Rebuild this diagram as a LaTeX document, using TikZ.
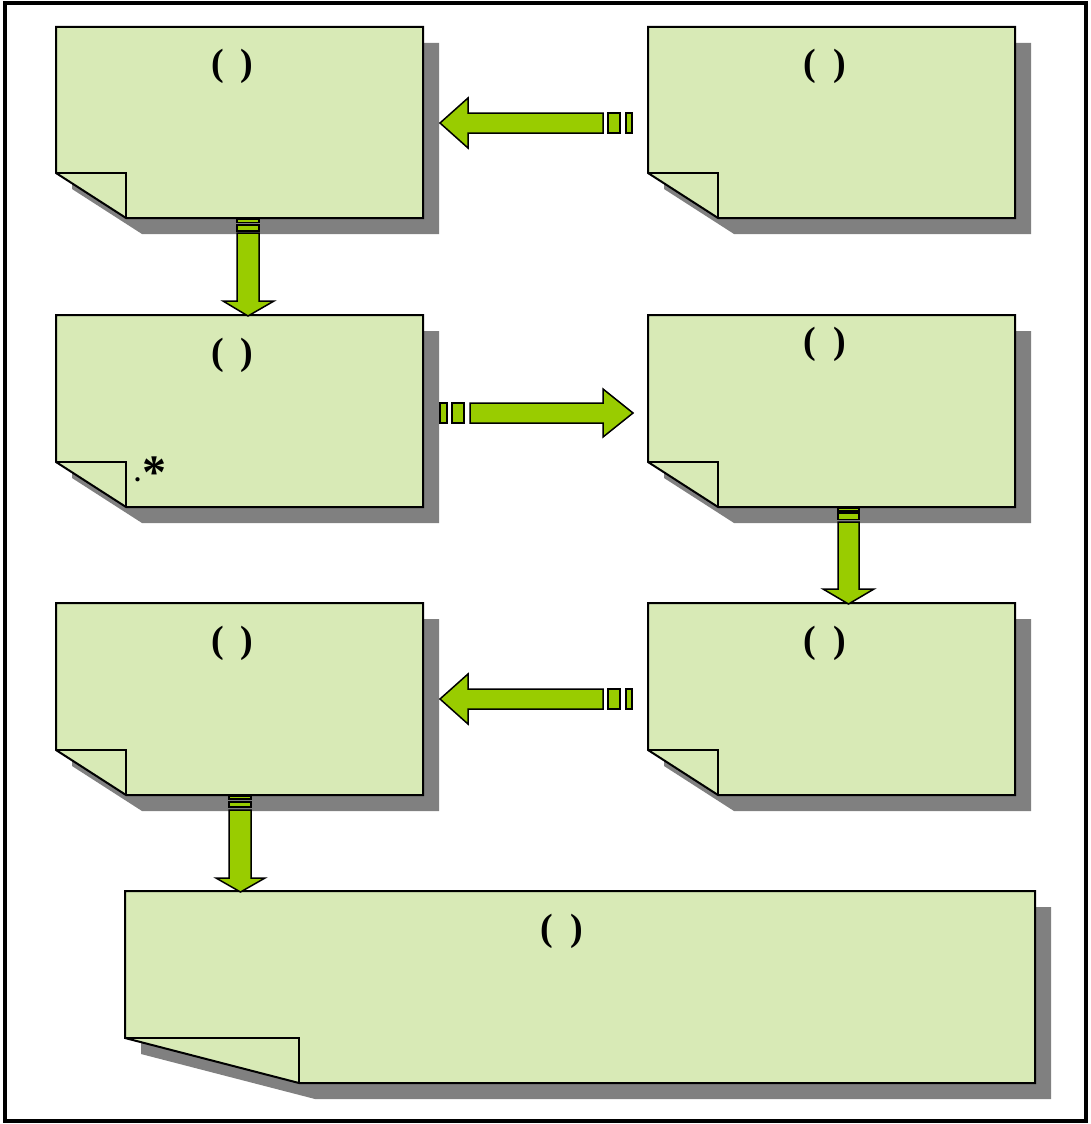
\documentclass[tikz,border=0pt]{standalone}
\usepackage{fontspec}
\setmainfont{Liberation Serif}
\definecolor{notefill}{RGB}{216,234,182}
\definecolor{arrowgreen}{RGB}{153,204,0}
\definecolor{shadowgray}{RGB}{128,128,128}
\tikzset{
  paper/.style={fill=notefill,draw=black,line width=2pt,line join=miter},
  papershadow/.style={fill=shadowgray,draw=none},
  foldline/.style={draw=black,line width=2pt},
  blockarrow/.style={fill=arrowgreen,draw=black,line width=1.5pt,line join=miter},
  label/.style={font=\bfseries\fontsize{38}{44}\selectfont,inner sep=0pt,anchor=base},
}
% #1 name, #2 x1, #3 y1, #4 x2, #5 y2, #6 fold width, #7 fold height
\newcommand\notepaper[7]{%
  \fill[papershadow] ({#2+16},{#3+16}) -- ({#4+16},{#3+16}) -- ({#4+16},{#5+16}) -- ({#2+#6+16},{#5+16}) -- ({#2+16},{#5-#7+16}) -- cycle;
  \path[paper] (#2,#3) -- (#4,#3) -- (#4,#5) -- ({#2+#6},#5) -- (#2,{#5-#7}) -- cycle;
  \draw[foldline] (#2,{#5-#7}) -- ({#2+#6},{#5-#7}) -- ({#2+#6},#5);
  \node[inner sep=0pt,minimum width={#4-#2},minimum height={#5-#3}] (#1) at ({(#2+#4)/2},{(#3+#5)/2}) {};
}
\newcommand\parens{(\hspace{17pt})}
\begin{document}
\begin{tikzpicture}[x=1pt,y=-1pt]
\useasboundingbox (0,0) rectangle (1090,1124);
\fill[white] (0,0) rectangle (1090,1124);
\draw[line width=4pt] (5,3) rectangle (1086,1121);

% notes
\notepaper{n1}{56}{27}{423}{218}{70}{45}
\notepaper{n2}{648}{27}{1015}{218}{70}{45}
\notepaper{n3}{56}{315}{423}{507}{70}{45}
\notepaper{n4}{648}{315}{1015}{507}{70}{45}
\notepaper{n5}{56}{603}{423}{795}{70}{45}
\notepaper{n6}{648}{603}{1015}{795}{70}{45}
\notepaper{n7}{125}{891}{1035}{1083}{174}{45}

% labels
\node[label] (t1) at (232.5,76) {\parens};
\node[label] (t2) at (825,76) {\parens};
\node[label] (t3) at (232.5,364) {\parens};
\node[label] (t4) at (825,353) {\parens};
\node[label] (t5) at (232.5,652) {\parens};
\node[label] (t6) at (825,652) {\parens};
\node[label] (t7) at (562,940) {\parens};
\node[font=\bfseries\fontsize{26}{30}\selectfont,inner sep=0pt,anchor=base] (dot) at (137.5,481) {.};
\node[font=\bfseries\fontsize{48}{52}\selectfont,inner sep=0pt,anchor=base] (ast) at (154.5,488) {*};

% arrow n2 -> n1 (row 1, leftwards)
\path[blockarrow] (440,123) -- (468,98) -- (468,113) -- (603,113) -- (603,133) -- (468,133) -- (468,148) -- cycle;
\path[blockarrow] (608,113) rectangle (620,133);
\path[blockarrow] (626,113) rectangle (632,133);

% arrow n1 -> n3 (down)
\path[blockarrow] (248,316) -- (223,301) -- (237,301) -- (237,233) -- (259,233) -- (259,301) -- (274,301) -- cycle;
\path[blockarrow] (237,225) rectangle (259,231);
\path[blockarrow] (237,219.5) rectangle (259,222.5);

% arrow n3 -> n4 (row 2, rightwards)
\path[blockarrow] (633,413) -- (603,389) -- (603,403) -- (470,403) -- (470,423) -- (603,423) -- (603,437) -- cycle;
\path[blockarrow] (452,403) rectangle (464,423);
\path[blockarrow] (440,403) rectangle (447,423);

% arrow n4 -> n6 (down)
\path[blockarrow] (848.5,604) -- (823,589) -- (838,589) -- (838,522) -- (859,522) -- (859,589) -- (874,589) -- cycle;
\path[blockarrow] (838,513) rectangle (859,519.5);
\path[blockarrow] (838,508.5) rectangle (859,511);

% arrow n6 -> n5 (row 3, leftwards)
\path[blockarrow] (440,699) -- (468,674) -- (468,689) -- (603,689) -- (603,709) -- (468,709) -- (468,724) -- cycle;
\path[blockarrow] (608,689) rectangle (620,709);
\path[blockarrow] (626,689) rectangle (632,709);

% arrow n5 -> n7 (down)
\path[blockarrow] (240.5,892) -- (216,878) -- (229,878) -- (229,810) -- (251,810) -- (251,878) -- (265,878) -- cycle;
\path[blockarrow] (229,802) rectangle (251,807);
\path[blockarrow] (229,796.5) rectangle (251,799);
\end{tikzpicture}
\end{document}
